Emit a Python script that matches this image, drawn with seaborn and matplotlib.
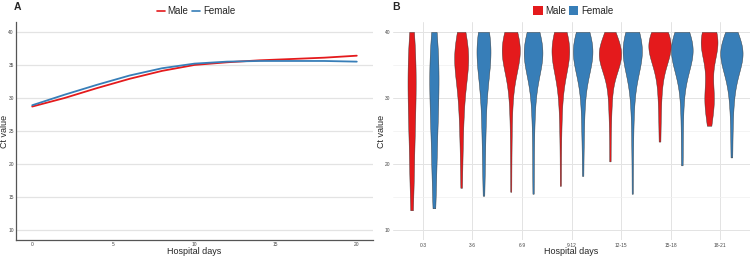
import matplotlib
matplotlib.use("Agg")
import matplotlib.pyplot as plt
import numpy as np
import pandas as pd
import seaborn as sns
from matplotlib.lines import Line2D
from matplotlib.patches import Patch

# ---------------- data ----------------
days = [0, 2, 4, 6, 8, 10, 12, 14, 16, 18, 20]
male_ct = [28.7, 30.0, 31.5, 32.9, 34.1, 35.0, 35.4, 35.7, 35.9, 36.1, 36.4]
female_ct = [28.9, 30.5, 32.0, 33.4, 34.5, 35.2, 35.5, 35.6, 35.6, 35.6, 35.5]

sexes = ["Male", "Female"]
groups = ["0-3", "3-6", "6-9", "9-12", "12-15", "15-18", "18-21"]

male_0_3 = [13, 15, 17, 19, 21, 22.5, 24, 25.5, 27, 28, 29, 30, 31, 32, 33, 34, 35, 36, 37, 38, 39, 40]
female_0_3 = [13.3, 15.5, 18, 20, 22, 23.5, 25, 26.5, 28, 29, 30, 31, 32, 33, 34, 35, 36, 37, 38, 39, 40]
male_3_6 = [16.4, 20, 23, 25, 27, 28.5, 30, 31, 32, 33, 34, 34.5, 35, 35.5, 36, 36, 36.5, 36.5, 37, 37, 37.5, 38, 38.5, 39, 40]
female_3_6 = [15.2, 19, 22, 24, 26, 28, 29.5, 31, 32, 33, 34, 35, 35.5, 36, 36.5, 37, 37, 37.5, 38, 38, 38.5, 39, 39, 39.5, 40, 40]
male_6_9 = [15.8, 21, 25, 28, 30, 31.5, 33, 34, 34.5, 35, 35.5, 36, 36, 36.5, 36.5, 37, 37, 37, 37.5, 37.5, 38, 38, 38, 38.5, 38.5, 39, 39, 39.5, 40, 40]
female_6_9 = [15.5, 20, 24, 27, 29, 30.5, 32, 33, 34, 34.5, 35, 35.5, 35.5, 36, 36, 36.5, 36.5, 37, 37, 37, 37.5, 37.5, 38, 38, 38.5, 38.5, 39, 39.5, 40, 40]
male_9_12 = [16.7, 22, 26, 28.5, 30.5, 32, 33, 34, 34.5, 35, 35.5, 36, 36, 36.5, 36.5, 37, 37, 37.5, 37.5, 38, 38, 38.5, 38.5, 39, 39, 39.5, 40, 40]
female_9_12 = [18.2, 23, 26, 28.5, 30.5, 32, 33, 34, 34.5, 35, 35.5, 36, 36, 36.5, 36.5, 37, 37, 37.5, 37.5, 38, 38, 38.5, 39, 39, 39.5, 40, 40]
male_12_15 = [20.4, 25, 28, 30, 31.5, 33, 34, 34.5, 35, 35.5, 35.5, 36, 36, 36, 36.5, 36.5, 36.5, 37, 37, 37, 37.5, 37.5, 38, 38, 38.5, 39, 39.5, 40]
female_12_15 = [15.5, 21, 25, 28, 30, 31.5, 33, 34, 34.5, 35, 35.5, 36, 36, 36.5, 36.5, 37, 37, 37, 37.5, 37.5, 38, 38, 38.5, 38.5, 39, 39, 39.5, 40, 40]
male_15_18 = [23.4, 27, 29.5, 31.5, 33, 34, 35, 35.5, 36, 36.5, 36.5, 37, 37, 37.5, 37.5, 38, 38, 38.5, 38.5, 39, 39, 39.5, 39.5, 40, 40, 40]
female_15_18 = [19.8, 24, 27.5, 30, 32, 33, 34, 34.5, 35, 35.5, 36, 36, 36.5, 36.5, 37, 37, 37.5, 37.5, 38, 38, 38.5, 38.5, 39, 39, 39.5, 40, 40]
male_18_21 = [25.8, 27.5, 28.5, 29, 29.5, 30, 30.5, 31, 32, 34, 35.5, 36.5, 37, 37.5, 38, 38, 38.5, 38.5, 39, 39, 39.5, 39.5, 40, 40, 40]
female_18_21 = [21, 25, 28, 30, 31.5, 32.5, 33.5, 34, 34.5, 35, 35.5, 36, 36, 36.5, 36.5, 37, 37, 37, 37.5, 37.5, 38, 38, 38.5, 39, 39.5, 40]

male_groups = [male_0_3, male_3_6, male_6_9, male_9_12, male_12_15, male_15_18, male_18_21]
female_groups = [female_0_3, female_3_6, female_6_9, female_9_12, female_12_15, female_15_18, female_18_21]

colors = {"Male": "#E41A1C", "Female": "#377EB8"}

# ---------------- tables ----------------
line_df = pd.DataFrame({
    "day": days + days,
    "ct": male_ct + female_ct,
    "sex": ["Male"] * len(days) + ["Female"] * len(days),
})

rows = []
for g, mvals, fvals in zip(groups, male_groups, female_groups):
    for v in mvals:
        rows.append((g, "Male", v))
    for v in fvals:
        rows.append((g, "Female", v))
vdf = pd.DataFrame(rows, columns=["group", "sex", "ct"])

# ---------------- figure ----------------
sns.set_style("white")
plt.rcParams["font.family"] = ["Liberation Sans", "DejaVu Sans"]

fig = plt.figure(figsize=(7.52, 2.56), dpi=100)
axA = fig.add_axes([16 / 752, 1 - 240 / 256, (373 - 16) / 752, (240 - 22) / 256])
axB = fig.add_axes([393 / 752, 1 - 240 / 256, (750 - 393) / 752, (240 - 22) / 256])

grid_col = "#e3e3e3"

# Panel A
sns.lineplot(data=line_df, x="day", y="ct", hue="sex", hue_order=sexes,
             palette=colors, ax=axA, legend=False, linewidth=1.3)
axA.set_xlim(-1, 21)
axA.set_ylim(8.5, 41.5)
axA.set_xticks([0, 5, 10, 15, 20])
axA.set_yticks([10, 15, 20, 25, 30, 35, 40])
axA.yaxis.grid(True, color=grid_col, linewidth=0.9)
axA.xaxis.grid(False)
axA.set_axisbelow(True)
for s in ["top", "right"]:
    axA.spines[s].set_visible(False)
for s in ["left", "bottom"]:
    axA.spines[s].set_color("#555555")
    axA.spines[s].set_linewidth(0.9)
axA.tick_params(axis="both", labelsize=3.5, length=1, width=0.5,
                colors="#555555", pad=0.5, labelcolor="#444444")
axA.set_xlabel("Hospital days", fontsize=6.5, va="center")
axA.set_ylabel("Ct value", fontsize=6.5, va="center")
axA.xaxis.set_label_coords(0.5, -11 / 218)
axA.yaxis.set_label_coords(-11 / 357, 0.5)

# Panel B
sns.violinplot(data=vdf, x="group", y="ct", hue="sex", order=groups,
               hue_order=sexes, palette=colors, density_norm="area", cut=0,
               inner=None, width=0.9, gap=0, linewidth=0.3, linecolor="#333333",
               saturation=1, legend=False, ax=axB)
axB.set_xlim(-0.6, 6.6)
axB.set_ylim(8.5, 41.5)
axB.set_yticks([10, 20, 30, 40])
axB.set_yticks([15, 25, 35], minor=True)
axB.yaxis.grid(True, which="major", color=grid_col, linewidth=0.7)
axB.yaxis.grid(True, which="minor", color="#f0f0f0", linewidth=0.5)
axB.xaxis.grid(True, color=grid_col, linewidth=0.7)
axB.set_axisbelow(True)
for s in axB.spines.values():
    s.set_visible(False)
axB.tick_params(axis="both", which="both", labelsize=3.5, length=0, pad=2,
                labelcolor="#444444")
axB.set_xlabel("Hospital days", fontsize=6.5, va="center")
axB.set_ylabel("Ct value", fontsize=6.5, va="center")
axB.xaxis.set_label_coords(0.5, -11 / 218)
axB.yaxis.set_label_coords(-12 / 357, 0.5)

# legends
hA = [Line2D([], [], color=colors[s], linewidth=1.2) for s in sexes]
fig.legend(hA, sexes, loc="center", bbox_to_anchor=(196 / 752, 1 - 11 / 256),
           ncol=2, frameon=False, fontsize=7, handlelength=0.8,
           handletextpad=0.3, columnspacing=0.4, borderpad=0)
hB = [Patch(facecolor=colors[s], edgecolor="none") for s in sexes]
fig.legend(hB, sexes, loc="center", bbox_to_anchor=(573 / 752, 1 - 11 / 256),
           ncol=2, frameon=False, fontsize=7, handlelength=1.0, handleheight=1.0,
           handletextpad=0.25, columnspacing=0.3, borderpad=0)

fig.text(14 / 752, 1 - 7 / 256, "A", fontsize=7.5, fontweight="bold", va="center", ha="left")
fig.text(392 / 752, 1 - 7 / 256, "B", fontsize=7.5, fontweight="bold", va="center", ha="left")

fig.savefig("out.png", dpi=100)
